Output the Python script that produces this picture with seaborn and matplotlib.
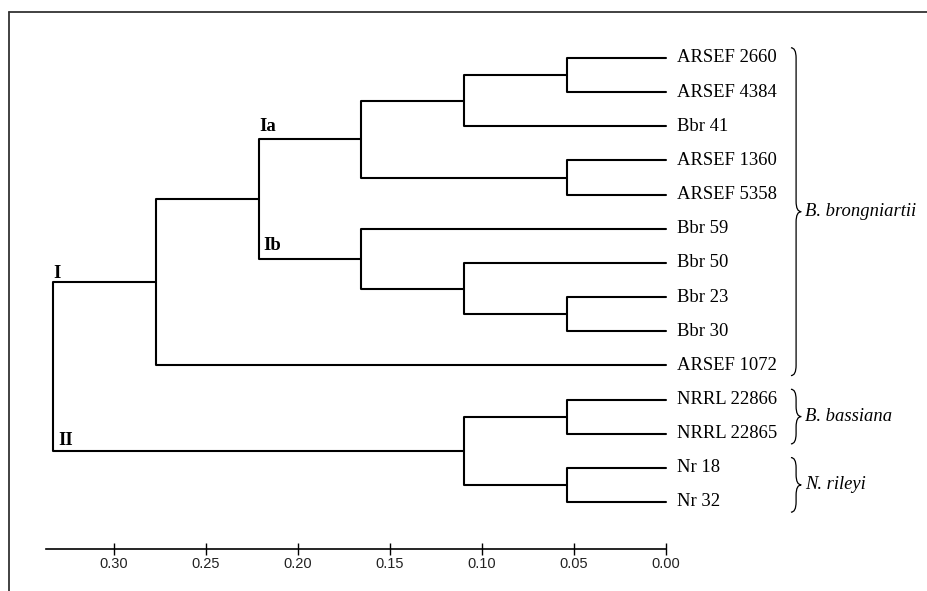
import numpy as np
import pandas as pd
import matplotlib
matplotlib.use("Agg")
import matplotlib.pyplot as plt
import seaborn as sns
from matplotlib.path import Path
from matplotlib.patches import PathPatch
from matplotlib.lines import Line2D

sns.set_style("white")
plt.rcParams['font.family'] = ['Liberation Serif', 'DejaVu Serif']
plt.rcParams['text.color'] = 'black'

# ---------------- data ----------------
leaves = ["ARSEF 2660", "ARSEF 4384", "Bbr 41", "ARSEF 1360", "ARSEF 5358",
          "Bbr 59", "Bbr 50", "Bbr 23", "Bbr 30", "ARSEF 1072",
          "NRRL 22866", "NRRL 22865", "Nr 18", "Nr 32"]
# linkage-style merges: node ids 0..13 are leaves, merge k creates node 14+k
merge_a = [0, 14, 3, 15, 7, 6, 5, 17, 21, 10, 12, 23, 22]
merge_b = [1, 2, 4, 16, 8, 18, 19, 20, 9, 11, 13, 24, 25]
merge_h = [0.054, 0.110, 0.054, 0.166, 0.054, 0.110, 0.166, 0.221, 0.277,
           0.054, 0.054, 0.110, 0.333]

cluster_labels = ["I", "Ia", "Ib", "II"]
cluster_nodes = [22, 17, 20, 25]

species_names = ["B. brongniartii", "B. bassiana", "N. rileyi"]
species_first = [0, 10, 12]
species_last = [9, 11, 13]

tick_values = [0.30, 0.25, 0.20, 0.15, 0.10, 0.05, 0.00]
tick_labels = ["0.30", "0.25", "0.20", "0.15", "0.10", "0.05", "0.00"]

# ---------------- tree geometry ----------------
n = len(leaves)
node_y = [float(i) for i in range(n)]
node_h = [0.0] * n
parent = {}
rows = []
for k, (a, b, h) in enumerate(zip(merge_a, merge_b, merge_h)):
    ya, yb = node_y[a], node_y[b]
    pts = [(node_h[a], ya), (h, ya), (h, yb), (node_h[b], yb)]
    for o, (x, y) in enumerate(pts):
        rows.append({"x": x, "y": y, "seg": k, "o": o})
    node_y.append((ya + yb) / 2)
    node_h.append(h)
    parent[a] = n + k
    parent[b] = n + k
df = pd.DataFrame(rows)

W, H = 927, 591
fig = plt.figure(figsize=(W / 100, H / 100), dpi=100)
ax = fig.add_axes([0, 0, 1, 1])

px_per_unit = 1840.0
x0_px = 666.0
xlim = (x0_px / px_per_unit, (x0_px - W) / px_per_unit)
leaf_top_px, leaf_step = 58.0, 34.15
ylim = ((H - leaf_top_px) / leaf_step, -leaf_top_px / leaf_step)

sns.lineplot(data=df, x="x", y="y", units="seg", estimator=None, sort=False,
             color="black", linewidth=1.5, ax=ax)
ax.set_xlim(*xlim)
ax.set_ylim(*ylim)
ax.axis("off")

# leaf labels
for i, name in enumerate(leaves):
    ax.text(-0.0062, i, name, ha="left", va="center", fontsize=13.4,
            family=["Liberation Serif", "DejaVu Serif"])

# cluster labels (placed at the parent split, above the branch)
offs = {"I": (0, 4), "Ia": (0, 8), "Ib": (4, 9), "II": (5, 6)}
for lab, nd in zip(cluster_labels, cluster_nodes):
    dx, dy = offs[lab]
    ax.annotate(lab, xy=(node_h[parent[nd]], node_y[nd]),
                xytext=(dx * 0.72, dy * 0.72),
                textcoords="offset points", ha="left", va="baseline",
                fontsize=13.4, fontweight="bold")

# braces and species names
def brace(ax, y0, y1, xe, w, r):
    xm = xe + w / 2
    xt = xe + w
    ym = (y0 + y1) / 2
    verts = [(xe, y0), (xm, y0), (xm, y0 + r), (xm, ym - r), (xm, ym), (xt, ym),
             (xm, ym), (xm, ym + r), (xm, y1 - r), (xm, y1), (xe, y1)]
    codes = [Path.MOVETO, Path.CURVE3, Path.CURVE3, Path.LINETO, Path.CURVE3,
             Path.CURVE3, Path.CURVE3, Path.CURVE3, Path.LINETO, Path.CURVE3,
             Path.CURVE3]
    ax.add_patch(PathPatch(Path(verts, codes), fill=False, lw=0.9,
                           edgecolor="black"))
    return xt, ym

xe = -0.0679
bw = -0.0056
for name, f, l in zip(species_names, species_first, species_last):
    xt, ym = brace(ax, f - 0.3, l + 0.3, xe, bw, 0.3)
    ax.text(xt - 0.0022, ym, name, ha="left", va="center", fontsize=13.4,
            style="italic")

# scale bar axis
bax = fig.add_axes([0, 1 - 549 / H, 1, 0.0001])
bax.patch.set_visible(False)
bax.set_xlim(*xlim)
for s in ["top", "left", "right"]:
    bax.spines[s].set_visible(False)
bax.spines["bottom"].set_bounds(0.0, 0.337)
bax.spines["bottom"].set_color("black")
bax.spines["bottom"].set_linewidth(1.2)
bax.set_yticks([])
bax.set_xticks(tick_values)
bax.set_xticklabels(tick_labels, family=["Liberation Sans", "DejaVu Sans"])
bax.tick_params(axis="x", bottom=True, direction="inout", length=8, width=1,
                pad=2, labelsize=10.5, color="black", labelcolor="#222222")

# frame
fx = 9 / W
fy = 1 - 12 / H
fig.add_artist(Line2D([fx, fx], [0, fy], transform=fig.transFigure,
                      color="#333333", lw=1.3))
fig.add_artist(Line2D([fx, 1], [fy, fy], transform=fig.transFigure,
                      color="#333333", lw=1.3))

fig.savefig("out.png", dpi=100)
